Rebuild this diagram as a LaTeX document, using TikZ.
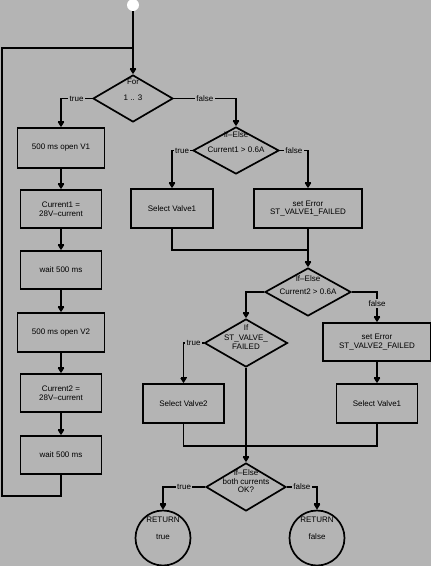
\documentclass[tikz,border=0pt]{standalone}
\usepackage{fontspec}
\setmainfont{Liberation Sans}
\usetikzlibrary{arrows.meta, shapes.geometric, positioning}

\definecolor{sfondo}{RGB}{180,180,180}

\begin{document}
\begin{tikzpicture}[
			x=1pt, y=-1pt,
			every node/.style={font=\fontsize{8}{8.5}\selectfont},
			blocco/.style={draw, line width=1.7pt, align=center, inner sep=0pt},
			rombo/.style={draw, diamond, line width=1.7pt, inner sep=0pt},
			cerchio/.style={draw, circle, line width=1.7pt, inner sep=0pt, minimum size=55pt},
			testo/.style={align=center, inner sep=0pt},
			etich/.style={fill=sfondo, inner sep=1.5pt},
			linea/.style={line width=1.7pt},
			freccia/.style={line width=1.7pt, -{Bar[width=6pt, line width=1.2pt, sep=0pt]Triangle[length=5pt, width=6pt]}}
			]
			\fill[sfondo] (0,0) rectangle (431,566);
			\useasboundingbox (0,0) rectangle (431,566);
			% Inizio e ciclo
			\node[circle, fill=white, minimum size=12pt, inner sep=0pt] (st) at (133,5) {};
			\node[rombo, minimum width=80pt, minimum height=47pt] (d1) at (133,98.5) {};
			\node[testo] (d1t) at (133,90) {For\\[7.5pt]1 .. 3};
			\coordinate (l1) at (133,48);
			\coordinate (l2) at (2,496);
			% Colonna sinistra
			\node[blocco, minimum width=87pt, minimum height=40pt] (b1) at (61,148) {500 ms open V1};
			\node[blocco, minimum width=81pt, minimum height=38pt] (b2) at (61,209) {Current1 =\\28V--current};
			\node[blocco, minimum width=81pt, minimum height=38pt] (b3) at (61,270) {wait 500 ms};
			\node[blocco, minimum width=87pt, minimum height=39pt] (b4) at (61,332.5) {500 ms open V2};
			\node[blocco, minimum width=81pt, minimum height=38pt] (b5) at (61,393) {Current2 =\\28V--current};
			\node[blocco, minimum width=81pt, minimum height=38pt] (b6) at (61,455) {wait 500 ms};
			% Primo controllo
			\node[rombo, minimum width=86pt, minimum height=47pt] (d2) at (236,150.5) {};
			\node[testo] (d2t) at (236,142.5) {If--Else\\[6.5pt]Current1 > 0.6A};
			\node[blocco, minimum width=82pt, minimum height=39pt] (s1) at (172,208.5) {Select Valve1};
			\node[blocco, minimum width=108pt, minimum height=39pt] (e1) at (308,208.5) {set Error\\ST\_VALVE1\_FAILED};
			\coordinate (j1) at (308,250);
			% Secondo controllo
			\node[rombo, minimum width=86pt, minimum height=48pt] (d3) at (308,292) {};
			\node[testo] (d3t) at (308,285.5) {If--Else\\[4.5pt]Current2 > 0.6A};
			\node[rombo, minimum width=83pt, minimum height=48pt] (d4) at (246,343) {};
			\node[testo] (d4t) at (246,337.5) {If\\[1pt]ST\_VALVE\_\\[1pt]FAILED};
			\node[blocco, minimum width=81pt, minimum height=39pt] (s2) at (183.5,403.5) {Select Valve2};
			\node[blocco, minimum width=108pt, minimum height=38pt] (e2) at (377,342) {set Error\\ST\_VALVE2\_FAILED};
			\node[blocco, minimum width=81pt, minimum height=39pt] (s3) at (377,403.5) {Select Valve1};
			\coordinate (j2) at (246,446);
			% Controllo finale
			\node[rombo, minimum width=80pt, minimum height=48pt] (d5) at (246,487) {};
			\node[testo] (d5t) at (246,481.5) {If--Else\\both currents\\OK?};
			\node[cerchio] (r1) at (163,538) {};
			\node[testo] (r1t) at (163,528.5) {RETURN\\[8.5pt]true};
			\node[cerchio] (r2) at (317,538) {};
			\node[testo] (r2t) at (317,528.5) {RETURN\\[8.5pt]false};
			% Collegamenti
			\draw[freccia] (st.south) -- (d1.north);
			\draw[freccia] (d1.west) -| node[etich, pos=0.25] {true} (b1.north);
			\draw[freccia] (d1.east) -| node[etich, pos=0.25] {false} (d2.north);
			\draw[freccia] (b1.south) -- (b2.north);
			\draw[freccia] (b2.south) -- (b3.north);
			\draw[freccia] (b3.south) -- (b4.north);
			\draw[freccia] (b4.south) -- (b5.north);
			\draw[freccia] (b5.south) -- (b6.north);
			\draw[linea] (b6.south) |- (l2) |- (l1);
			\draw[freccia] (d2.west) -| node[etich, pos=0.25] {true} (s1.north);
			\draw[freccia] (d2.east) -| node[etich, pos=0.25] {false} (e1.north);
			\draw[linea] (s1.south) |- (j1) -| (e1.south);
			\draw[freccia] (j1) -- (d3.north);
			\draw[freccia] (d3.west) -| (d4.north);
			\draw[freccia] (d3.east) -| node[etich, pos=0.69] {false} (e2.north);
			\draw[freccia] (d4.west) -| node[etich, pos=0.25] {true} (s2.north);
			\draw[freccia] (e2.south) -- (s3.north);
			\draw[linea] (s2.south) |- (j2) -| (s3.south);
			\draw[freccia] (d4.south) -- (d5.north);
			\draw[freccia] (d5.west) -| node[etich, pos=0.25] {true} (r1.north);
			\draw[freccia] (d5.east) -| node[etich, pos=0.25] {false} (r2.north);
		\end{tikzpicture}
\end{document}
